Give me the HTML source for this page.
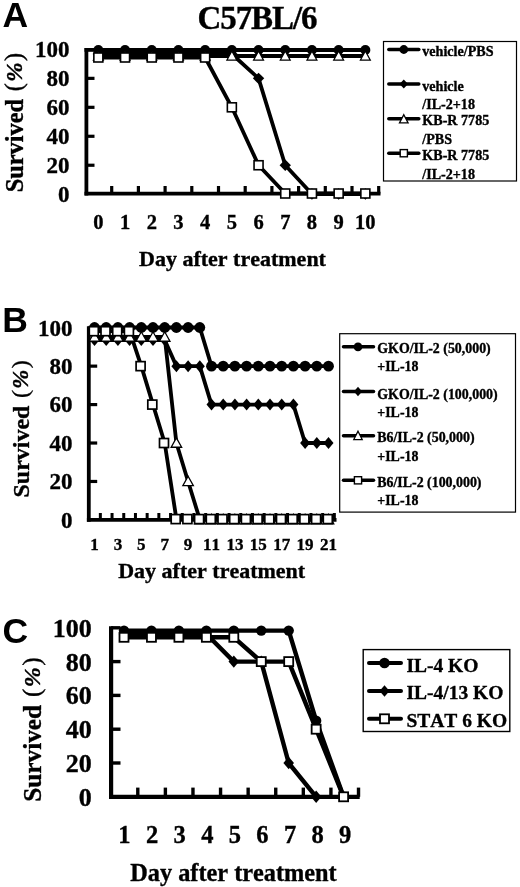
<!DOCTYPE html>
<html><head><meta charset="utf-8"><style>
html,body{margin:0;padding:0;background:#fff;width:520px;height:887px;overflow:hidden}
svg{display:block;filter:grayscale(1)} text{font-kerning:none}
</style></head><body>
<svg width="520" height="887" viewBox="0 0 520 887">
<rect width="520" height="887" fill="#fff"/>
<text x="2.50" y="26.50" font-size="35.5" text-anchor="start" font-family="Liberation Sans, sans-serif" font-weight="bold" >A</text>
<text x="257.00" y="29.00" font-size="33" text-anchor="middle" font-family="Liberation Serif, serif" font-weight="bold" stroke="#000" stroke-width="0.35" letter-spacing="-1.1">C57BL/6</text>
<line x1="86.40" y1="48.00" x2="86.40" y2="195.50" stroke="#000" stroke-width="3.8" stroke-linecap="butt"/>
<line x1="84.50" y1="193.60" x2="380.50" y2="193.60" stroke="#000" stroke-width="3.8" stroke-linecap="butt"/>
<line x1="86.40" y1="165.24" x2="94.50" y2="165.24" stroke="#000" stroke-width="3.2" stroke-linecap="butt"/>
<line x1="86.40" y1="136.28" x2="94.50" y2="136.28" stroke="#000" stroke-width="3.2" stroke-linecap="butt"/>
<line x1="86.40" y1="107.32" x2="94.50" y2="107.32" stroke="#000" stroke-width="3.2" stroke-linecap="butt"/>
<line x1="86.40" y1="78.36" x2="94.50" y2="78.36" stroke="#000" stroke-width="3.2" stroke-linecap="butt"/>
<line x1="84.50" y1="49.90" x2="95.00" y2="49.90" stroke="#000" stroke-width="3.8" stroke-linecap="butt"/>
<line x1="111.70" y1="193.60" x2="111.70" y2="186.00" stroke="#000" stroke-width="3.2" stroke-linecap="butt"/>
<line x1="138.40" y1="193.60" x2="138.40" y2="186.00" stroke="#000" stroke-width="3.2" stroke-linecap="butt"/>
<line x1="165.10" y1="193.60" x2="165.10" y2="186.00" stroke="#000" stroke-width="3.2" stroke-linecap="butt"/>
<line x1="191.80" y1="193.60" x2="191.80" y2="186.00" stroke="#000" stroke-width="3.2" stroke-linecap="butt"/>
<line x1="218.50" y1="193.60" x2="218.50" y2="186.00" stroke="#000" stroke-width="3.2" stroke-linecap="butt"/>
<line x1="245.20" y1="193.60" x2="245.20" y2="186.00" stroke="#000" stroke-width="3.2" stroke-linecap="butt"/>
<line x1="271.90" y1="193.60" x2="271.90" y2="186.00" stroke="#000" stroke-width="3.2" stroke-linecap="butt"/>
<line x1="298.60" y1="193.60" x2="298.60" y2="186.00" stroke="#000" stroke-width="3.2" stroke-linecap="butt"/>
<line x1="325.30" y1="193.60" x2="325.30" y2="186.00" stroke="#000" stroke-width="3.2" stroke-linecap="butt"/>
<line x1="352.00" y1="193.60" x2="352.00" y2="186.00" stroke="#000" stroke-width="3.2" stroke-linecap="butt"/>
<line x1="378.70" y1="193.60" x2="378.70" y2="186.00" stroke="#000" stroke-width="3.2" stroke-linecap="butt"/>
<text x="69.60" y="201.90" font-size="23" text-anchor="end" font-family="Liberation Serif, serif" font-weight="bold" stroke="#000" stroke-width="0.35" >0</text>
<text x="69.60" y="172.94" font-size="23" text-anchor="end" font-family="Liberation Serif, serif" font-weight="bold" stroke="#000" stroke-width="0.35" >20</text>
<text x="69.60" y="143.98" font-size="23" text-anchor="end" font-family="Liberation Serif, serif" font-weight="bold" stroke="#000" stroke-width="0.35" >40</text>
<text x="69.60" y="115.02" font-size="23" text-anchor="end" font-family="Liberation Serif, serif" font-weight="bold" stroke="#000" stroke-width="0.35" >60</text>
<text x="69.60" y="86.06" font-size="23" text-anchor="end" font-family="Liberation Serif, serif" font-weight="bold" stroke="#000" stroke-width="0.35" >80</text>
<text x="69.60" y="57.10" font-size="23" text-anchor="end" font-family="Liberation Serif, serif" font-weight="bold" stroke="#000" stroke-width="0.35" >100</text>
<text x="98.35" y="229.30" font-size="20.5" text-anchor="middle" font-family="Liberation Serif, serif" font-weight="bold" stroke="#000" stroke-width="0.35" >0</text>
<text x="125.05" y="229.30" font-size="20.5" text-anchor="middle" font-family="Liberation Serif, serif" font-weight="bold" stroke="#000" stroke-width="0.35" >1</text>
<text x="151.75" y="229.30" font-size="20.5" text-anchor="middle" font-family="Liberation Serif, serif" font-weight="bold" stroke="#000" stroke-width="0.35" >2</text>
<text x="178.45" y="229.30" font-size="20.5" text-anchor="middle" font-family="Liberation Serif, serif" font-weight="bold" stroke="#000" stroke-width="0.35" >3</text>
<text x="205.15" y="229.30" font-size="20.5" text-anchor="middle" font-family="Liberation Serif, serif" font-weight="bold" stroke="#000" stroke-width="0.35" >4</text>
<text x="231.85" y="229.30" font-size="20.5" text-anchor="middle" font-family="Liberation Serif, serif" font-weight="bold" stroke="#000" stroke-width="0.35" >5</text>
<text x="258.55" y="229.30" font-size="20.5" text-anchor="middle" font-family="Liberation Serif, serif" font-weight="bold" stroke="#000" stroke-width="0.35" >6</text>
<text x="285.25" y="229.30" font-size="20.5" text-anchor="middle" font-family="Liberation Serif, serif" font-weight="bold" stroke="#000" stroke-width="0.35" >7</text>
<text x="311.95" y="229.30" font-size="20.5" text-anchor="middle" font-family="Liberation Serif, serif" font-weight="bold" stroke="#000" stroke-width="0.35" >8</text>
<text x="338.65" y="229.30" font-size="20.5" text-anchor="middle" font-family="Liberation Serif, serif" font-weight="bold" stroke="#000" stroke-width="0.35" >9</text>
<text x="365.35" y="229.30" font-size="20.5" text-anchor="middle" font-family="Liberation Serif, serif" font-weight="bold" stroke="#000" stroke-width="0.35" >10</text>
<text x="232.50" y="266.00" font-size="22" text-anchor="middle" font-family="Liberation Serif, serif" font-weight="bold" stroke="#000" stroke-width="0.35" >Day after treatment</text>
<text x="0.00" y="0.00" font-size="24.4" text-anchor="middle" font-family="Liberation Serif, serif" font-weight="bold" stroke="#000" stroke-width="0.35" transform="translate(22.9,122.6) rotate(-90)">Survived <tspan font-weight="normal" dy="-1.2" dx="1.5">(</tspan><tspan font-style="italic" font-size="0.95em" dx="1.4">%</tspan><tspan font-weight="normal" dx="1.4">)</tspan></text>
<polyline points="98.35,50.00 125.05,50.00 151.75,50.00 178.45,50.00 205.15,50.00 231.85,50.00 258.55,50.00 285.25,50.00 311.95,50.00 338.65,50.00 365.35,50.00" fill="none" stroke="#000" stroke-width="3.8" stroke-linejoin="round" stroke-linecap="butt"/>
<polyline points="98.35,54.00 125.05,54.00 151.75,54.00 178.45,54.00 205.15,54.00 231.85,54.00 258.55,78.36 285.25,165.24 311.95,194.00 338.65,194.00 365.35,194.00" fill="none" stroke="#000" stroke-width="3.8" stroke-linejoin="round" stroke-linecap="butt"/>
<polyline points="98.35,56.00 125.05,56.00 151.75,56.00 178.45,56.00 205.15,56.00 231.85,56.00 258.55,56.00 285.25,56.00 311.95,56.00 338.65,56.00 365.35,56.00" fill="none" stroke="#000" stroke-width="3.8" stroke-linejoin="round" stroke-linecap="butt"/>
<polyline points="98.35,57.50 125.05,57.50 151.75,57.50 178.45,57.50 205.15,57.50 231.85,107.32 258.55,165.24 285.25,193.50 311.95,193.50 338.65,193.50 365.35,193.50" fill="none" stroke="#000" stroke-width="3.8" stroke-linejoin="round" stroke-linecap="butt"/>
<circle cx="98.35" cy="50.00" r="5" fill="#000"/>
<circle cx="125.05" cy="50.00" r="5" fill="#000"/>
<circle cx="151.75" cy="50.00" r="5" fill="#000"/>
<circle cx="178.45" cy="50.00" r="5" fill="#000"/>
<circle cx="205.15" cy="50.00" r="5" fill="#000"/>
<circle cx="231.85" cy="50.00" r="5" fill="#000"/>
<circle cx="258.55" cy="50.00" r="5" fill="#000"/>
<circle cx="285.25" cy="50.00" r="5" fill="#000"/>
<circle cx="311.95" cy="50.00" r="5" fill="#000"/>
<circle cx="338.65" cy="50.00" r="5" fill="#000"/>
<circle cx="365.35" cy="50.00" r="5" fill="#000"/>
<path d="M98.35,48.30L104.05,54.00L98.35,59.70L92.65,54.00Z" fill="#000"/>
<path d="M125.05,48.30L130.75,54.00L125.05,59.70L119.35,54.00Z" fill="#000"/>
<path d="M151.75,48.30L157.45,54.00L151.75,59.70L146.05,54.00Z" fill="#000"/>
<path d="M178.45,48.30L184.15,54.00L178.45,59.70L172.75,54.00Z" fill="#000"/>
<path d="M205.15,48.30L210.85,54.00L205.15,59.70L199.45,54.00Z" fill="#000"/>
<path d="M231.85,48.30L237.55,54.00L231.85,59.70L226.15,54.00Z" fill="#000"/>
<path d="M258.55,72.66L264.25,78.36L258.55,84.06L252.85,78.36Z" fill="#000"/>
<path d="M285.25,159.54L290.95,165.24L285.25,170.94L279.55,165.24Z" fill="#000"/>
<path d="M311.95,188.30L317.65,194.00L311.95,199.70L306.25,194.00Z" fill="#000"/>
<path d="M338.65,188.30L344.35,194.00L338.65,199.70L332.95,194.00Z" fill="#000"/>
<path d="M365.35,188.30L371.05,194.00L365.35,199.70L359.65,194.00Z" fill="#000"/>
<path d="M98.35,51.05L103.25,60.05L93.45,60.05Z" fill="#fff" stroke="#000" stroke-width="1.3" stroke-linejoin="miter"/>
<path d="M125.05,51.05L129.95,60.05L120.15,60.05Z" fill="#fff" stroke="#000" stroke-width="1.3" stroke-linejoin="miter"/>
<path d="M151.75,51.05L156.65,60.05L146.85,60.05Z" fill="#fff" stroke="#000" stroke-width="1.3" stroke-linejoin="miter"/>
<path d="M178.45,51.05L183.35,60.05L173.55,60.05Z" fill="#fff" stroke="#000" stroke-width="1.3" stroke-linejoin="miter"/>
<path d="M205.15,51.05L210.05,60.05L200.25,60.05Z" fill="#fff" stroke="#000" stroke-width="1.3" stroke-linejoin="miter"/>
<path d="M231.85,51.05L236.75,60.05L226.95,60.05Z" fill="#fff" stroke="#000" stroke-width="1.3" stroke-linejoin="miter"/>
<path d="M258.55,51.05L263.45,60.05L253.65,60.05Z" fill="#fff" stroke="#000" stroke-width="1.3" stroke-linejoin="miter"/>
<path d="M285.25,51.05L290.15,60.05L280.35,60.05Z" fill="#fff" stroke="#000" stroke-width="1.3" stroke-linejoin="miter"/>
<path d="M311.95,51.05L316.85,60.05L307.05,60.05Z" fill="#fff" stroke="#000" stroke-width="1.3" stroke-linejoin="miter"/>
<path d="M338.65,51.05L343.55,60.05L333.75,60.05Z" fill="#fff" stroke="#000" stroke-width="1.3" stroke-linejoin="miter"/>
<path d="M365.35,51.05L370.25,60.05L360.45,60.05Z" fill="#fff" stroke="#000" stroke-width="1.3" stroke-linejoin="miter"/>
<rect x="93.85" y="53.00" width="9.0" height="9.0" fill="#fff" stroke="#000" stroke-width="1.6"/>
<rect x="120.55" y="53.00" width="9.0" height="9.0" fill="#fff" stroke="#000" stroke-width="1.6"/>
<rect x="147.25" y="53.00" width="9.0" height="9.0" fill="#fff" stroke="#000" stroke-width="1.6"/>
<rect x="173.95" y="53.00" width="9.0" height="9.0" fill="#fff" stroke="#000" stroke-width="1.6"/>
<rect x="200.65" y="53.00" width="9.0" height="9.0" fill="#fff" stroke="#000" stroke-width="1.6"/>
<rect x="227.35" y="102.82" width="9.0" height="9.0" fill="#fff" stroke="#000" stroke-width="1.6"/>
<rect x="254.05" y="160.74" width="9.0" height="9.0" fill="#fff" stroke="#000" stroke-width="1.6"/>
<rect x="280.75" y="189.00" width="9.0" height="9.0" fill="#fff" stroke="#000" stroke-width="1.6"/>
<rect x="307.45" y="189.00" width="9.0" height="9.0" fill="#fff" stroke="#000" stroke-width="1.6"/>
<rect x="334.15" y="189.00" width="9.0" height="9.0" fill="#fff" stroke="#000" stroke-width="1.6"/>
<rect x="360.85" y="189.00" width="9.0" height="9.0" fill="#fff" stroke="#000" stroke-width="1.6"/>
<rect x="383.50" y="41.50" width="133.00" height="139.50" fill="none" stroke="#000" stroke-width="1.2"/>
<line x1="388.80" y1="49.50" x2="418.80" y2="49.50" stroke="#000" stroke-width="3.5" stroke-linecap="round"/>
<circle cx="403.80" cy="49.50" r="4.4" fill="#000"/>
<text x="422.30" y="56.30" font-size="14.1" text-anchor="start" font-family="Liberation Serif, serif" font-weight="bold" stroke="#000" stroke-width="0.35" >vehicle/PBS</text>
<line x1="388.80" y1="84.00" x2="418.80" y2="84.00" stroke="#000" stroke-width="3.5" stroke-linecap="round"/>
<path d="M403.80,79.40L408.00,84.00L403.80,88.60L399.60,84.00Z" fill="#000"/>
<text x="422.30" y="90.90" font-size="14.1" text-anchor="start" font-family="Liberation Serif, serif" font-weight="bold" stroke="#000" stroke-width="0.35" >vehicle</text>
<text x="422.30" y="108.90" font-size="14.1" text-anchor="start" font-family="Liberation Serif, serif" font-weight="bold" stroke="#000" stroke-width="0.35" >/IL-2+18</text>
<line x1="388.80" y1="118.80" x2="418.80" y2="118.80" stroke="#000" stroke-width="3.5" stroke-linecap="round"/>
<path d="M403.80,114.70L408.10,122.90L399.50,122.90Z" fill="#fff" stroke="#000" stroke-width="1.3" stroke-linejoin="miter"/>
<text x="422.30" y="125.40" font-size="14.1" text-anchor="start" font-family="Liberation Serif, serif" font-weight="bold" stroke="#000" stroke-width="0.35" >KB-R 7785</text>
<text x="422.30" y="143.60" font-size="14.1" text-anchor="start" font-family="Liberation Serif, serif" font-weight="bold" stroke="#000" stroke-width="0.35" >/PBS</text>
<line x1="388.80" y1="153.20" x2="418.80" y2="153.20" stroke="#000" stroke-width="3.5" stroke-linecap="round"/>
<rect x="400.20" y="149.60" width="7.2" height="7.2" fill="#fff" stroke="#000" stroke-width="1.4"/>
<text x="422.30" y="159.80" font-size="14.1" text-anchor="start" font-family="Liberation Serif, serif" font-weight="bold" stroke="#000" stroke-width="0.35" >KB-R 7785</text>
<text x="422.30" y="178.50" font-size="14.1" text-anchor="start" font-family="Liberation Serif, serif" font-weight="bold" stroke="#000" stroke-width="0.35" >/IL-2+18</text>
<text x="2.20" y="331.50" font-size="35.5" text-anchor="start" font-family="Liberation Sans, sans-serif" font-weight="bold" >B</text>
<line x1="88.80" y1="326.20" x2="88.80" y2="521.80" stroke="#000" stroke-width="3.8" stroke-linecap="butt"/>
<line x1="86.90" y1="519.90" x2="336.50" y2="519.90" stroke="#000" stroke-width="3.8" stroke-linecap="butt"/>
<line x1="88.80" y1="481.46" x2="97.20" y2="481.46" stroke="#000" stroke-width="3.2" stroke-linecap="butt"/>
<line x1="88.80" y1="443.02" x2="97.20" y2="443.02" stroke="#000" stroke-width="3.2" stroke-linecap="butt"/>
<line x1="88.80" y1="404.58" x2="97.20" y2="404.58" stroke="#000" stroke-width="3.2" stroke-linecap="butt"/>
<line x1="88.80" y1="366.14" x2="97.20" y2="366.14" stroke="#000" stroke-width="3.2" stroke-linecap="butt"/>
<line x1="88.80" y1="327.70" x2="97.20" y2="327.70" stroke="#000" stroke-width="3.2" stroke-linecap="butt"/>
<line x1="100.35" y1="519.90" x2="100.35" y2="513.00" stroke="#000" stroke-width="3.0" stroke-linecap="butt"/>
<line x1="112.05" y1="519.90" x2="112.05" y2="513.00" stroke="#000" stroke-width="3.0" stroke-linecap="butt"/>
<line x1="123.75" y1="519.90" x2="123.75" y2="513.00" stroke="#000" stroke-width="3.0" stroke-linecap="butt"/>
<line x1="135.45" y1="519.90" x2="135.45" y2="513.00" stroke="#000" stroke-width="3.0" stroke-linecap="butt"/>
<line x1="147.15" y1="519.90" x2="147.15" y2="513.00" stroke="#000" stroke-width="3.0" stroke-linecap="butt"/>
<line x1="158.85" y1="519.90" x2="158.85" y2="513.00" stroke="#000" stroke-width="3.0" stroke-linecap="butt"/>
<line x1="170.55" y1="519.90" x2="170.55" y2="513.00" stroke="#000" stroke-width="3.0" stroke-linecap="butt"/>
<line x1="182.25" y1="519.90" x2="182.25" y2="513.00" stroke="#000" stroke-width="3.0" stroke-linecap="butt"/>
<line x1="193.95" y1="519.90" x2="193.95" y2="513.00" stroke="#000" stroke-width="3.0" stroke-linecap="butt"/>
<line x1="205.65" y1="519.90" x2="205.65" y2="513.00" stroke="#000" stroke-width="3.0" stroke-linecap="butt"/>
<line x1="217.35" y1="519.90" x2="217.35" y2="513.00" stroke="#000" stroke-width="3.0" stroke-linecap="butt"/>
<line x1="229.05" y1="519.90" x2="229.05" y2="513.00" stroke="#000" stroke-width="3.0" stroke-linecap="butt"/>
<line x1="240.75" y1="519.90" x2="240.75" y2="513.00" stroke="#000" stroke-width="3.0" stroke-linecap="butt"/>
<line x1="252.45" y1="519.90" x2="252.45" y2="513.00" stroke="#000" stroke-width="3.0" stroke-linecap="butt"/>
<line x1="264.15" y1="519.90" x2="264.15" y2="513.00" stroke="#000" stroke-width="3.0" stroke-linecap="butt"/>
<line x1="275.85" y1="519.90" x2="275.85" y2="513.00" stroke="#000" stroke-width="3.0" stroke-linecap="butt"/>
<line x1="287.55" y1="519.90" x2="287.55" y2="513.00" stroke="#000" stroke-width="3.0" stroke-linecap="butt"/>
<line x1="299.25" y1="519.90" x2="299.25" y2="513.00" stroke="#000" stroke-width="3.0" stroke-linecap="butt"/>
<line x1="310.95" y1="519.90" x2="310.95" y2="513.00" stroke="#000" stroke-width="3.0" stroke-linecap="butt"/>
<line x1="322.65" y1="519.90" x2="322.65" y2="513.00" stroke="#000" stroke-width="3.0" stroke-linecap="butt"/>
<line x1="334.35" y1="519.90" x2="334.35" y2="513.00" stroke="#000" stroke-width="3.0" stroke-linecap="butt"/>
<text x="72.60" y="527.80" font-size="23" text-anchor="end" font-family="Liberation Serif, serif" font-weight="bold" stroke="#000" stroke-width="0.35" >0</text>
<text x="72.60" y="489.36" font-size="23" text-anchor="end" font-family="Liberation Serif, serif" font-weight="bold" stroke="#000" stroke-width="0.35" >20</text>
<text x="72.60" y="450.92" font-size="23" text-anchor="end" font-family="Liberation Serif, serif" font-weight="bold" stroke="#000" stroke-width="0.35" >40</text>
<text x="72.60" y="412.48" font-size="23" text-anchor="end" font-family="Liberation Serif, serif" font-weight="bold" stroke="#000" stroke-width="0.35" >60</text>
<text x="72.60" y="374.04" font-size="23" text-anchor="end" font-family="Liberation Serif, serif" font-weight="bold" stroke="#000" stroke-width="0.35" >80</text>
<text x="72.60" y="335.60" font-size="23" text-anchor="end" font-family="Liberation Serif, serif" font-weight="bold" stroke="#000" stroke-width="0.35" >100</text>
<text x="94.50" y="550.30" font-size="17" text-anchor="middle" font-family="Liberation Serif, serif" font-weight="bold" stroke="#000" stroke-width="0.35" >1</text>
<text x="117.90" y="550.30" font-size="17" text-anchor="middle" font-family="Liberation Serif, serif" font-weight="bold" stroke="#000" stroke-width="0.35" >3</text>
<text x="141.30" y="550.30" font-size="17" text-anchor="middle" font-family="Liberation Serif, serif" font-weight="bold" stroke="#000" stroke-width="0.35" >5</text>
<text x="164.70" y="550.30" font-size="17" text-anchor="middle" font-family="Liberation Serif, serif" font-weight="bold" stroke="#000" stroke-width="0.35" >7</text>
<text x="188.10" y="550.30" font-size="17" text-anchor="middle" font-family="Liberation Serif, serif" font-weight="bold" stroke="#000" stroke-width="0.35" >9</text>
<text x="211.50" y="550.30" font-size="17" text-anchor="middle" font-family="Liberation Serif, serif" font-weight="bold" stroke="#000" stroke-width="0.35" >11</text>
<text x="234.90" y="550.30" font-size="17" text-anchor="middle" font-family="Liberation Serif, serif" font-weight="bold" stroke="#000" stroke-width="0.35" >13</text>
<text x="258.30" y="550.30" font-size="17" text-anchor="middle" font-family="Liberation Serif, serif" font-weight="bold" stroke="#000" stroke-width="0.35" >15</text>
<text x="281.70" y="550.30" font-size="17" text-anchor="middle" font-family="Liberation Serif, serif" font-weight="bold" stroke="#000" stroke-width="0.35" >17</text>
<text x="305.10" y="550.30" font-size="17" text-anchor="middle" font-family="Liberation Serif, serif" font-weight="bold" stroke="#000" stroke-width="0.35" >19</text>
<text x="328.50" y="550.30" font-size="17" text-anchor="middle" font-family="Liberation Serif, serif" font-weight="bold" stroke="#000" stroke-width="0.35" >21</text>
<text x="211.70" y="577.80" font-size="22" text-anchor="middle" font-family="Liberation Serif, serif" font-weight="bold" stroke="#000" stroke-width="0.35" >Day after treatment</text>
<text x="0.00" y="0.00" font-size="24" text-anchor="middle" font-family="Liberation Serif, serif" font-weight="bold" stroke="#000" stroke-width="0.35" transform="translate(29.3,428.9) rotate(-90)">Survived <tspan font-weight="normal" dy="-1.2" dx="1.5">(</tspan><tspan font-style="italic" font-size="0.95em" dx="1.4">%</tspan><tspan font-weight="normal" dx="1.4">)</tspan></text>
<polyline points="94.50,327.50 106.20,327.50 117.90,327.50 129.60,327.50 141.30,327.50 153.00,327.50 164.70,327.50 176.40,327.50 188.10,327.50 199.80,327.50 211.50,366.14 223.20,366.14 234.90,366.14 246.60,366.14 258.30,366.14 270.00,366.14 281.70,366.14 293.40,366.14 305.10,366.14 316.80,366.14 328.50,366.14" fill="none" stroke="#000" stroke-width="3.8" stroke-linejoin="round" stroke-linecap="butt"/>
<polyline points="94.50,340.00 106.20,340.00 117.90,340.00 129.60,340.00 141.30,340.00 153.00,340.00 164.70,340.00 176.40,366.14 188.10,366.14 199.80,366.14 211.50,404.58 223.20,404.58 234.90,404.58 246.60,404.58 258.30,404.58 270.00,404.58 281.70,404.58 293.40,404.58 305.10,443.02 316.80,443.02 328.50,443.02" fill="none" stroke="#000" stroke-width="3.8" stroke-linejoin="round" stroke-linecap="butt"/>
<polyline points="94.50,337.00 106.20,337.00 117.90,337.00 129.60,337.00 141.30,337.00 153.00,337.00 164.70,337.00 176.40,443.02 188.10,481.46 199.80,519.50 211.50,519.50 223.20,519.50 234.90,519.50 246.60,519.50 258.30,519.50 270.00,519.50 281.70,519.50 293.40,519.50 305.10,519.50 316.80,519.50 328.50,519.50" fill="none" stroke="#000" stroke-width="3.8" stroke-linejoin="round" stroke-linecap="butt"/>
<polyline points="94.50,331.20 106.20,331.20 117.90,331.20 129.60,331.20 141.30,366.14 153.00,404.58 164.70,443.02 176.40,519.10 188.10,519.10 199.80,519.10 211.50,519.10 223.20,519.10 234.90,519.10 246.60,519.10 258.30,519.10 270.00,519.10 281.70,519.10 293.40,519.10 305.10,519.10 316.80,519.10 328.50,519.10" fill="none" stroke="#000" stroke-width="3.8" stroke-linejoin="round" stroke-linecap="butt"/>
<circle cx="94.50" cy="327.50" r="5.4" fill="#000"/>
<circle cx="106.20" cy="327.50" r="5.4" fill="#000"/>
<circle cx="117.90" cy="327.50" r="5.4" fill="#000"/>
<circle cx="129.60" cy="327.50" r="5.4" fill="#000"/>
<circle cx="141.30" cy="327.50" r="5.4" fill="#000"/>
<circle cx="153.00" cy="327.50" r="5.4" fill="#000"/>
<circle cx="164.70" cy="327.50" r="5.4" fill="#000"/>
<circle cx="176.40" cy="327.50" r="5.4" fill="#000"/>
<circle cx="188.10" cy="327.50" r="5.4" fill="#000"/>
<circle cx="199.80" cy="327.50" r="5.4" fill="#000"/>
<circle cx="211.50" cy="366.14" r="5.4" fill="#000"/>
<circle cx="223.20" cy="366.14" r="5.4" fill="#000"/>
<circle cx="234.90" cy="366.14" r="5.4" fill="#000"/>
<circle cx="246.60" cy="366.14" r="5.4" fill="#000"/>
<circle cx="258.30" cy="366.14" r="5.4" fill="#000"/>
<circle cx="270.00" cy="366.14" r="5.4" fill="#000"/>
<circle cx="281.70" cy="366.14" r="5.4" fill="#000"/>
<circle cx="293.40" cy="366.14" r="5.4" fill="#000"/>
<circle cx="305.10" cy="366.14" r="5.4" fill="#000"/>
<circle cx="316.80" cy="366.14" r="5.4" fill="#000"/>
<circle cx="328.50" cy="366.14" r="5.4" fill="#000"/>
<path d="M94.50,334.00L99.50,340.00L94.50,346.00L89.50,340.00Z" fill="#000"/>
<path d="M106.20,334.00L111.20,340.00L106.20,346.00L101.20,340.00Z" fill="#000"/>
<path d="M117.90,334.00L122.90,340.00L117.90,346.00L112.90,340.00Z" fill="#000"/>
<path d="M129.60,334.00L134.60,340.00L129.60,346.00L124.60,340.00Z" fill="#000"/>
<path d="M141.30,334.00L146.30,340.00L141.30,346.00L136.30,340.00Z" fill="#000"/>
<path d="M153.00,334.00L158.00,340.00L153.00,346.00L148.00,340.00Z" fill="#000"/>
<path d="M164.70,334.00L169.70,340.00L164.70,346.00L159.70,340.00Z" fill="#000"/>
<path d="M176.40,360.14L181.40,366.14L176.40,372.14L171.40,366.14Z" fill="#000"/>
<path d="M188.10,360.14L193.10,366.14L188.10,372.14L183.10,366.14Z" fill="#000"/>
<path d="M199.80,360.14L204.80,366.14L199.80,372.14L194.80,366.14Z" fill="#000"/>
<path d="M211.50,398.58L216.50,404.58L211.50,410.58L206.50,404.58Z" fill="#000"/>
<path d="M223.20,398.58L228.20,404.58L223.20,410.58L218.20,404.58Z" fill="#000"/>
<path d="M234.90,398.58L239.90,404.58L234.90,410.58L229.90,404.58Z" fill="#000"/>
<path d="M246.60,398.58L251.60,404.58L246.60,410.58L241.60,404.58Z" fill="#000"/>
<path d="M258.30,398.58L263.30,404.58L258.30,410.58L253.30,404.58Z" fill="#000"/>
<path d="M270.00,398.58L275.00,404.58L270.00,410.58L265.00,404.58Z" fill="#000"/>
<path d="M281.70,398.58L286.70,404.58L281.70,410.58L276.70,404.58Z" fill="#000"/>
<path d="M293.40,398.58L298.40,404.58L293.40,410.58L288.40,404.58Z" fill="#000"/>
<path d="M305.10,437.02L310.10,443.02L305.10,449.02L300.10,443.02Z" fill="#000"/>
<path d="M316.80,437.02L321.80,443.02L316.80,449.02L311.80,443.02Z" fill="#000"/>
<path d="M328.50,437.02L333.50,443.02L328.50,449.02L323.50,443.02Z" fill="#000"/>
<path d="M94.50,331.80L99.75,341.25L89.25,341.25Z" fill="#fff" stroke="#000" stroke-width="1.3" stroke-linejoin="miter"/>
<path d="M106.20,331.80L111.45,341.25L100.95,341.25Z" fill="#fff" stroke="#000" stroke-width="1.3" stroke-linejoin="miter"/>
<path d="M117.90,331.80L123.15,341.25L112.65,341.25Z" fill="#fff" stroke="#000" stroke-width="1.3" stroke-linejoin="miter"/>
<path d="M129.60,331.80L134.85,341.25L124.35,341.25Z" fill="#fff" stroke="#000" stroke-width="1.3" stroke-linejoin="miter"/>
<path d="M141.30,331.80L146.55,341.25L136.05,341.25Z" fill="#fff" stroke="#000" stroke-width="1.3" stroke-linejoin="miter"/>
<path d="M153.00,331.80L158.25,341.25L147.75,341.25Z" fill="#fff" stroke="#000" stroke-width="1.3" stroke-linejoin="miter"/>
<path d="M164.70,331.80L169.95,341.25L159.45,341.25Z" fill="#fff" stroke="#000" stroke-width="1.3" stroke-linejoin="miter"/>
<path d="M176.40,437.82L181.65,447.27L171.15,447.27Z" fill="#fff" stroke="#000" stroke-width="1.3" stroke-linejoin="miter"/>
<path d="M188.10,476.26L193.35,485.71L182.85,485.71Z" fill="#fff" stroke="#000" stroke-width="1.3" stroke-linejoin="miter"/>
<path d="M199.80,514.30L205.05,523.75L194.55,523.75Z" fill="#fff" stroke="#000" stroke-width="1.3" stroke-linejoin="miter"/>
<path d="M211.50,514.30L216.75,523.75L206.25,523.75Z" fill="#fff" stroke="#000" stroke-width="1.3" stroke-linejoin="miter"/>
<path d="M223.20,514.30L228.45,523.75L217.95,523.75Z" fill="#fff" stroke="#000" stroke-width="1.3" stroke-linejoin="miter"/>
<path d="M234.90,514.30L240.15,523.75L229.65,523.75Z" fill="#fff" stroke="#000" stroke-width="1.3" stroke-linejoin="miter"/>
<path d="M246.60,514.30L251.85,523.75L241.35,523.75Z" fill="#fff" stroke="#000" stroke-width="1.3" stroke-linejoin="miter"/>
<path d="M258.30,514.30L263.55,523.75L253.05,523.75Z" fill="#fff" stroke="#000" stroke-width="1.3" stroke-linejoin="miter"/>
<path d="M270.00,514.30L275.25,523.75L264.75,523.75Z" fill="#fff" stroke="#000" stroke-width="1.3" stroke-linejoin="miter"/>
<path d="M281.70,514.30L286.95,523.75L276.45,523.75Z" fill="#fff" stroke="#000" stroke-width="1.3" stroke-linejoin="miter"/>
<path d="M293.40,514.30L298.65,523.75L288.15,523.75Z" fill="#fff" stroke="#000" stroke-width="1.3" stroke-linejoin="miter"/>
<path d="M305.10,514.30L310.35,523.75L299.85,523.75Z" fill="#fff" stroke="#000" stroke-width="1.3" stroke-linejoin="miter"/>
<path d="M316.80,514.30L322.05,523.75L311.55,523.75Z" fill="#fff" stroke="#000" stroke-width="1.3" stroke-linejoin="miter"/>
<path d="M328.50,514.30L333.75,523.75L323.25,523.75Z" fill="#fff" stroke="#000" stroke-width="1.3" stroke-linejoin="miter"/>
<rect x="89.30" y="326.70" width="9.0" height="9.0" fill="#fff" stroke="#000" stroke-width="1.7"/>
<rect x="101.00" y="326.70" width="9.0" height="9.0" fill="#fff" stroke="#000" stroke-width="1.7"/>
<rect x="112.70" y="326.70" width="9.0" height="9.0" fill="#fff" stroke="#000" stroke-width="1.7"/>
<rect x="124.40" y="326.70" width="9.0" height="9.0" fill="#fff" stroke="#000" stroke-width="1.7"/>
<rect x="136.10" y="361.64" width="9.0" height="9.0" fill="#fff" stroke="#000" stroke-width="1.7"/>
<rect x="147.80" y="400.08" width="9.0" height="9.0" fill="#fff" stroke="#000" stroke-width="1.7"/>
<rect x="159.50" y="438.52" width="9.0" height="9.0" fill="#fff" stroke="#000" stroke-width="1.7"/>
<rect x="171.20" y="514.60" width="9.0" height="9.0" fill="#fff" stroke="#000" stroke-width="1.7"/>
<rect x="182.90" y="514.60" width="9.0" height="9.0" fill="#fff" stroke="#000" stroke-width="1.7"/>
<rect x="194.60" y="514.60" width="9.0" height="9.0" fill="#fff" stroke="#000" stroke-width="1.7"/>
<rect x="206.30" y="514.60" width="9.0" height="9.0" fill="#fff" stroke="#000" stroke-width="1.7"/>
<rect x="218.00" y="514.60" width="9.0" height="9.0" fill="#fff" stroke="#000" stroke-width="1.7"/>
<rect x="229.70" y="514.60" width="9.0" height="9.0" fill="#fff" stroke="#000" stroke-width="1.7"/>
<rect x="241.40" y="514.60" width="9.0" height="9.0" fill="#fff" stroke="#000" stroke-width="1.7"/>
<rect x="253.10" y="514.60" width="9.0" height="9.0" fill="#fff" stroke="#000" stroke-width="1.7"/>
<rect x="264.80" y="514.60" width="9.0" height="9.0" fill="#fff" stroke="#000" stroke-width="1.7"/>
<rect x="276.50" y="514.60" width="9.0" height="9.0" fill="#fff" stroke="#000" stroke-width="1.7"/>
<rect x="288.20" y="514.60" width="9.0" height="9.0" fill="#fff" stroke="#000" stroke-width="1.7"/>
<rect x="299.90" y="514.60" width="9.0" height="9.0" fill="#fff" stroke="#000" stroke-width="1.7"/>
<rect x="311.60" y="514.60" width="9.0" height="9.0" fill="#fff" stroke="#000" stroke-width="1.7"/>
<rect x="323.30" y="514.60" width="9.0" height="9.0" fill="#fff" stroke="#000" stroke-width="1.7"/>
<rect x="339.70" y="333.70" width="175.80" height="178.40" fill="none" stroke="#000" stroke-width="1.2"/>
<line x1="343.50" y1="346.80" x2="373.50" y2="346.80" stroke="#000" stroke-width="3.5" stroke-linecap="round"/>
<circle cx="358.00" cy="346.80" r="4.4" fill="#000"/>
<text x="377.30" y="352.70" font-size="13.9" text-anchor="start" font-family="Liberation Serif, serif" font-weight="bold" stroke="#000" stroke-width="0.35" >GKO/IL-2 (50,000)</text>
<text x="377.30" y="371.00" font-size="13.9" text-anchor="start" font-family="Liberation Serif, serif" font-weight="bold" stroke="#000" stroke-width="0.35" >+IL-18</text>
<line x1="343.50" y1="391.50" x2="373.50" y2="391.50" stroke="#000" stroke-width="3.5" stroke-linecap="round"/>
<path d="M358.00,386.80L362.10,391.50L358.00,396.20L353.90,391.50Z" fill="#000"/>
<text x="377.30" y="398.70" font-size="13.9" text-anchor="start" font-family="Liberation Serif, serif" font-weight="bold" stroke="#000" stroke-width="0.35" >GKO/IL-2 (100,000)</text>
<text x="377.30" y="416.70" font-size="13.9" text-anchor="start" font-family="Liberation Serif, serif" font-weight="bold" stroke="#000" stroke-width="0.35" >+IL-18</text>
<line x1="343.50" y1="435.80" x2="373.50" y2="435.80" stroke="#000" stroke-width="3.5" stroke-linecap="round"/>
<path d="M358.00,431.18L362.20,439.58L353.80,439.58Z" fill="#fff" stroke="#000" stroke-width="1.3" stroke-linejoin="miter"/>
<text x="377.30" y="441.90" font-size="13.9" text-anchor="start" font-family="Liberation Serif, serif" font-weight="bold" stroke="#000" stroke-width="0.35" >B6/IL-2 (50,000)</text>
<text x="377.30" y="461.00" font-size="13.9" text-anchor="start" font-family="Liberation Serif, serif" font-weight="bold" stroke="#000" stroke-width="0.35" >+IL-18</text>
<line x1="343.50" y1="480.30" x2="373.50" y2="480.30" stroke="#000" stroke-width="3.5" stroke-linecap="round"/>
<rect x="354.40" y="476.70" width="7.2" height="7.2" fill="#fff" stroke="#000" stroke-width="1.4"/>
<text x="377.30" y="486.50" font-size="13.9" text-anchor="start" font-family="Liberation Serif, serif" font-weight="bold" stroke="#000" stroke-width="0.35" >B6/IL-2 (100,000)</text>
<text x="377.30" y="504.80" font-size="13.9" text-anchor="start" font-family="Liberation Serif, serif" font-weight="bold" stroke="#000" stroke-width="0.35" >+IL-18</text>
<text x="2.50" y="642.50" font-size="35.5" text-anchor="start" font-family="Liberation Sans, sans-serif" font-weight="bold" >C</text>
<line x1="111.10" y1="626.20" x2="111.10" y2="799.00" stroke="#000" stroke-width="4.2" stroke-linecap="butt"/>
<line x1="109.00" y1="796.80" x2="359.70" y2="796.80" stroke="#000" stroke-width="4.2" stroke-linecap="butt"/>
<line x1="111.10" y1="763.00" x2="120.50" y2="763.00" stroke="#000" stroke-width="3.4" stroke-linecap="butt"/>
<line x1="111.10" y1="729.20" x2="120.50" y2="729.20" stroke="#000" stroke-width="3.4" stroke-linecap="butt"/>
<line x1="111.10" y1="695.40" x2="120.50" y2="695.40" stroke="#000" stroke-width="3.4" stroke-linecap="butt"/>
<line x1="111.10" y1="661.60" x2="120.50" y2="661.60" stroke="#000" stroke-width="3.4" stroke-linecap="butt"/>
<line x1="111.10" y1="627.80" x2="120.50" y2="627.80" stroke="#000" stroke-width="3.4" stroke-linecap="butt"/>
<line x1="137.79" y1="796.80" x2="137.79" y2="787.60" stroke="#000" stroke-width="3.4" stroke-linecap="butt"/>
<line x1="165.38" y1="796.80" x2="165.38" y2="787.60" stroke="#000" stroke-width="3.4" stroke-linecap="butt"/>
<line x1="192.97" y1="796.80" x2="192.97" y2="787.60" stroke="#000" stroke-width="3.4" stroke-linecap="butt"/>
<line x1="220.56" y1="796.80" x2="220.56" y2="787.60" stroke="#000" stroke-width="3.4" stroke-linecap="butt"/>
<line x1="248.15" y1="796.80" x2="248.15" y2="787.60" stroke="#000" stroke-width="3.4" stroke-linecap="butt"/>
<line x1="275.74" y1="796.80" x2="275.74" y2="787.60" stroke="#000" stroke-width="3.4" stroke-linecap="butt"/>
<line x1="303.33" y1="796.80" x2="303.33" y2="787.60" stroke="#000" stroke-width="3.4" stroke-linecap="butt"/>
<line x1="330.92" y1="796.80" x2="330.92" y2="787.60" stroke="#000" stroke-width="3.4" stroke-linecap="butt"/>
<line x1="358.51" y1="796.80" x2="358.51" y2="787.60" stroke="#000" stroke-width="3.4" stroke-linecap="butt"/>
<text x="91.80" y="805.80" font-size="26" text-anchor="end" font-family="Liberation Serif, serif" font-weight="bold" stroke="#000" stroke-width="0.35" >0</text>
<text x="91.80" y="772.00" font-size="26" text-anchor="end" font-family="Liberation Serif, serif" font-weight="bold" stroke="#000" stroke-width="0.35" >20</text>
<text x="91.80" y="738.20" font-size="26" text-anchor="end" font-family="Liberation Serif, serif" font-weight="bold" stroke="#000" stroke-width="0.35" >40</text>
<text x="91.80" y="704.40" font-size="26" text-anchor="end" font-family="Liberation Serif, serif" font-weight="bold" stroke="#000" stroke-width="0.35" >60</text>
<text x="91.80" y="670.60" font-size="26" text-anchor="end" font-family="Liberation Serif, serif" font-weight="bold" stroke="#000" stroke-width="0.35" >80</text>
<text x="91.80" y="636.80" font-size="26" text-anchor="end" font-family="Liberation Serif, serif" font-weight="bold" stroke="#000" stroke-width="0.35" >100</text>
<text x="124.49" y="843.30" font-size="24.5" text-anchor="middle" font-family="Liberation Serif, serif" font-weight="bold" stroke="#000" stroke-width="0.35" >1</text>
<text x="152.08" y="843.30" font-size="24.5" text-anchor="middle" font-family="Liberation Serif, serif" font-weight="bold" stroke="#000" stroke-width="0.35" >2</text>
<text x="179.67" y="843.30" font-size="24.5" text-anchor="middle" font-family="Liberation Serif, serif" font-weight="bold" stroke="#000" stroke-width="0.35" >3</text>
<text x="207.26" y="843.30" font-size="24.5" text-anchor="middle" font-family="Liberation Serif, serif" font-weight="bold" stroke="#000" stroke-width="0.35" >4</text>
<text x="234.85" y="843.30" font-size="24.5" text-anchor="middle" font-family="Liberation Serif, serif" font-weight="bold" stroke="#000" stroke-width="0.35" >5</text>
<text x="262.44" y="843.30" font-size="24.5" text-anchor="middle" font-family="Liberation Serif, serif" font-weight="bold" stroke="#000" stroke-width="0.35" >6</text>
<text x="290.03" y="843.30" font-size="24.5" text-anchor="middle" font-family="Liberation Serif, serif" font-weight="bold" stroke="#000" stroke-width="0.35" >7</text>
<text x="317.62" y="843.30" font-size="24.5" text-anchor="middle" font-family="Liberation Serif, serif" font-weight="bold" stroke="#000" stroke-width="0.35" >8</text>
<text x="345.21" y="843.30" font-size="24.5" text-anchor="middle" font-family="Liberation Serif, serif" font-weight="bold" stroke="#000" stroke-width="0.35" >9</text>
<text x="233.50" y="881.00" font-size="24.3" text-anchor="middle" font-family="Liberation Serif, serif" font-weight="bold" stroke="#000" stroke-width="0.35" >Day after treatment</text>
<text x="0.00" y="0.00" font-size="25.3" text-anchor="middle" font-family="Liberation Serif, serif" font-weight="bold" stroke="#000" stroke-width="0.35" transform="translate(41.3,729.6) rotate(-90)">Survived <tspan font-weight="normal" dy="-1.2" dx="1.5">(</tspan><tspan font-style="italic" font-size="0.95em" dx="1.4">%</tspan><tspan font-weight="normal" dx="1.4">)</tspan></text>
<polyline points="124.00,630.60 151.45,630.60 178.90,630.60 206.35,630.60 233.80,630.60 261.25,630.60 288.70,630.60 316.15,720.75 343.60,796.80" fill="none" stroke="#000" stroke-width="4.4" stroke-linejoin="round" stroke-linecap="butt"/>
<polyline points="124.00,634.00 151.45,634.00 178.90,634.00 206.35,634.00 233.80,661.60 261.25,661.60 288.70,763.00 316.15,796.80" fill="none" stroke="#000" stroke-width="4.4" stroke-linejoin="round" stroke-linecap="butt"/>
<polyline points="124.00,637.30 151.45,637.30 178.90,637.30 206.35,637.30 233.80,637.30 261.25,661.60 288.70,661.60 316.15,729.20 343.60,796.80" fill="none" stroke="#000" stroke-width="4.4" stroke-linejoin="round" stroke-linecap="butt"/>
<circle cx="124.00" cy="630.60" r="5.2" fill="#000"/>
<circle cx="151.45" cy="630.60" r="5.2" fill="#000"/>
<circle cx="178.90" cy="630.60" r="5.2" fill="#000"/>
<circle cx="206.35" cy="630.60" r="5.2" fill="#000"/>
<circle cx="233.80" cy="630.60" r="5.2" fill="#000"/>
<circle cx="261.25" cy="630.60" r="5.2" fill="#000"/>
<circle cx="288.70" cy="630.60" r="5.2" fill="#000"/>
<circle cx="316.15" cy="720.75" r="5.2" fill="#000"/>
<circle cx="343.60" cy="796.80" r="5.2" fill="#000"/>
<path d="M124.00,627.80L129.30,634.00L124.00,640.20L118.70,634.00Z" fill="#000"/>
<path d="M151.45,627.80L156.75,634.00L151.45,640.20L146.15,634.00Z" fill="#000"/>
<path d="M178.90,627.80L184.20,634.00L178.90,640.20L173.60,634.00Z" fill="#000"/>
<path d="M206.35,627.80L211.65,634.00L206.35,640.20L201.05,634.00Z" fill="#000"/>
<path d="M233.80,655.40L239.10,661.60L233.80,667.80L228.50,661.60Z" fill="#000"/>
<path d="M261.25,655.40L266.55,661.60L261.25,667.80L255.95,661.60Z" fill="#000"/>
<path d="M288.70,756.80L294.00,763.00L288.70,769.20L283.40,763.00Z" fill="#000"/>
<path d="M316.15,790.60L321.45,796.80L316.15,803.00L310.85,796.80Z" fill="#000"/>
<rect x="119.50" y="632.80" width="9.0" height="9.0" fill="#fff" stroke="#000" stroke-width="1.8"/>
<rect x="146.95" y="632.80" width="9.0" height="9.0" fill="#fff" stroke="#000" stroke-width="1.8"/>
<rect x="174.40" y="632.80" width="9.0" height="9.0" fill="#fff" stroke="#000" stroke-width="1.8"/>
<rect x="201.85" y="632.80" width="9.0" height="9.0" fill="#fff" stroke="#000" stroke-width="1.8"/>
<rect x="229.30" y="632.80" width="9.0" height="9.0" fill="#fff" stroke="#000" stroke-width="1.8"/>
<rect x="256.75" y="657.10" width="9.0" height="9.0" fill="#fff" stroke="#000" stroke-width="1.8"/>
<rect x="284.20" y="657.10" width="9.0" height="9.0" fill="#fff" stroke="#000" stroke-width="1.8"/>
<rect x="311.65" y="724.70" width="9.0" height="9.0" fill="#fff" stroke="#000" stroke-width="1.8"/>
<rect x="339.10" y="792.30" width="9.0" height="9.0" fill="#fff" stroke="#000" stroke-width="1.8"/>
<rect x="363.20" y="649.60" width="146.60" height="81.90" fill="none" stroke="#000" stroke-width="1.4"/>
<line x1="369.00" y1="663.00" x2="401.00" y2="663.00" stroke="#000" stroke-width="4" stroke-linecap="round"/>
<circle cx="384.50" cy="663.00" r="5.3" fill="#000"/>
<text x="406.40" y="672.00" font-size="19.5" text-anchor="start" font-family="Liberation Serif, serif" font-weight="bold" stroke="#000" stroke-width="0.35" >IL-4 KO</text>
<line x1="369.00" y1="691.00" x2="401.00" y2="691.00" stroke="#000" stroke-width="4" stroke-linecap="round"/>
<path d="M384.50,685.20L389.50,691.00L384.50,696.80L379.50,691.00Z" fill="#000"/>
<text x="406.40" y="699.20" font-size="19.5" text-anchor="start" font-family="Liberation Serif, serif" font-weight="bold" stroke="#000" stroke-width="0.35" >IL-4/13 KO</text>
<line x1="369.00" y1="718.80" x2="401.00" y2="718.80" stroke="#000" stroke-width="4" stroke-linecap="round"/>
<rect x="380.00" y="714.30" width="9" height="9" fill="#fff" stroke="#000" stroke-width="1.8"/>
<text x="406.40" y="726.90" font-size="19.5" text-anchor="start" font-family="Liberation Serif, serif" font-weight="bold" stroke="#000" stroke-width="0.35" >STAT 6 KO</text>
</svg>
</body></html>
